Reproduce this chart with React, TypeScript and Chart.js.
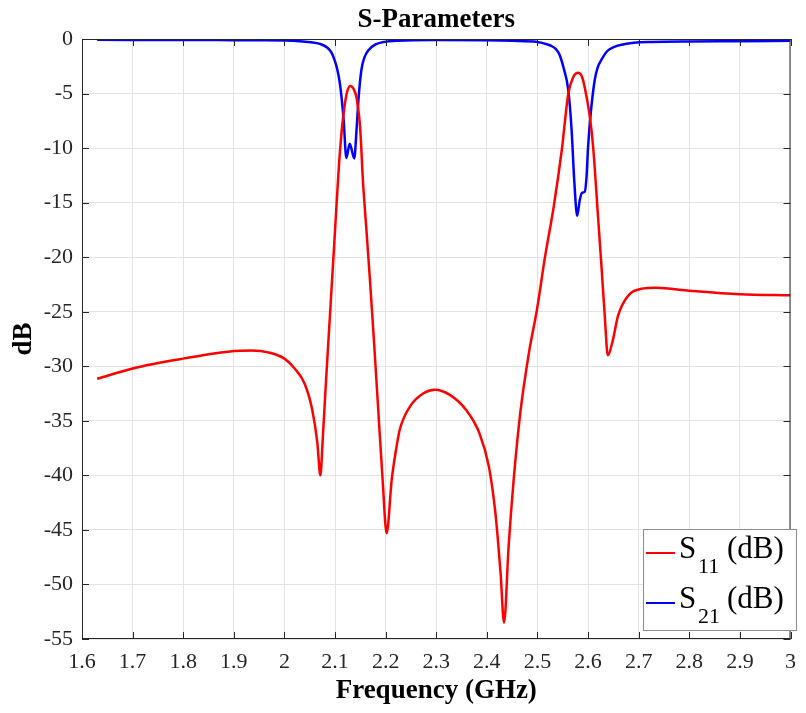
import React, { useEffect, useRef } from "react";
import { Chart, registerables } from "chart.js";

Chart.register(...registerables);

const xTicks = [1.6, 1.7, 1.8, 1.9, 2.0, 2.1, 2.2, 2.3, 2.4, 2.5, 2.6, 2.7, 2.8, 2.9, 3.0];
const yTicks = [0, -5, -10, -15, -20, -25, -30, -35, -40, -45, -50, -55];

const s11Freq = [
  1.63, 1.70, 1.80, 1.90, 1.935, 1.97, 2.00, 2.02, 2.04, 2.055, 2.065, 2.071, 2.076, 2.082, 2.09,
  2.098, 2.104, 2.108, 2.113, 2.117, 2.123, 2.130, 2.137, 2.143, 2.150, 2.155, 2.162, 2.169, 2.176,
  2.183, 2.194, 2.202, 2.212, 2.220, 2.228, 2.248, 2.274, 2.297, 2.326, 2.359, 2.385, 2.404, 2.417,
  2.427, 2.434, 2.443, 2.453, 2.466, 2.483, 2.499, 2.515, 2.532, 2.548, 2.561, 2.5706, 2.5805, 2.589,
  2.597, 2.604, 2.610, 2.620, 2.626, 2.633, 2.639, 2.649, 2.659, 2.678, 2.705, 2.735, 2.80, 2.90, 3.00,
];
const s11dB = [
  -31.15, -30.2, -29.3, -28.6, -28.55, -28.75, -29.3, -30.2, -31.6, -34.0, -37.0, -40.0, -36.4, -31.5, -25.3,
  -19.1, -14.4, -11.4, -8.5, -6.8, -5.0, -4.3, -4.6, -5.5, -8.4, -12.9, -17.5, -22.1, -27.0,
  -32.2, -40.4, -45.3, -40.4, -37.8, -35.8, -33.7, -32.5, -32.15, -32.6, -34.0, -36.1, -39.2, -43.5,
  -48.9, -53.5, -46.5, -40.4, -34.3, -28.8, -24.8, -19.95, -15.4, -10.2, -5.0, -3.5, -3.1, -3.6,
  -5.3, -7.3, -9.9, -16.5, -20.5, -25.4, -29.0, -27.6, -25.4, -23.6, -22.9, -22.8, -23.07, -23.4, -23.5,
];

const s21Freq = [
  1.63, 1.80, 1.90, 1.95, 2.00, 2.03, 2.052, 2.07, 2.085, 2.093, 2.098, 2.104, 2.109, 2.113, 2.117,
  2.1224, 2.129, 2.138, 2.1425, 2.1467, 2.152, 2.158, 2.166, 2.18, 2.196, 2.222, 2.30, 2.40, 2.45,
  2.50, 2.52, 2.528, 2.536, 2.541, 2.545, 2.552, 2.561, 2.5675, 2.5726, 2.5785, 2.5835, 2.588, 2.5935,
  2.597, 2.600, 2.6053, 2.613, 2.619, 2.626, 2.638, 2.652, 2.691, 2.726, 2.80, 2.90, 3.00,
];
const s21dB = [
  -0.08, -0.09, -0.11, -0.12, -0.14, -0.2, -0.3, -0.45, -0.8, -1.25, -1.8, -2.7, -3.9, -5.4, -7.4,
  -10.9, -9.6, -10.95, -8.3, -5.3, -2.86, -1.7, -1.03, -0.5, -0.27, -0.15, -0.1, -0.12, -0.17,
  -0.27, -0.5, -0.65, -0.9, -1.2, -1.6, -2.7, -4.7, -8.35, -12.9, -16.2, -14.8, -14.1, -14.0,
  -12.6, -9.9, -6.8, -3.8, -2.6, -1.94, -1.1, -0.72, -0.35, -0.27, -0.22, -0.2, -0.17,
];

const seriesNames = ["11", "21"];
const seriesColors = ["#ff0000", "#0000ff"];

const SERIF = '"Liberation Serif", "Times New Roman", serif';
const AXIS = "#262626";

const decorPlugin = {
  id: "decor",
  afterDatasetsDraw(chart: any) {
    const { ctx, chartArea: a, scales } = chart;
    const xs = scales.x;
    const ys = scales.y;
    ctx.save();
    ctx.strokeStyle = AXIS;
    ctx.lineWidth = 1;
    ctx.beginPath();
    ctx.moveTo(a.left, a.top + 0.5);
    ctx.lineTo(a.right, a.top + 0.5);
    ctx.moveTo(a.right - 0.5, a.top);
    ctx.lineTo(a.right - 0.5, a.bottom);
    ctx.moveTo(a.left, a.bottom - 0.5);
    ctx.lineTo(a.right, a.bottom - 0.5);
    ctx.moveTo(a.left + 0.5, a.top);
    ctx.lineTo(a.left + 0.5, a.bottom);
    const L = 7;
    xTicks.forEach((v) => {
      const px = Math.round(xs.getPixelForValue(v)) + 0.5;
      ctx.moveTo(px, a.bottom);
      ctx.lineTo(px, a.bottom - L);
      ctx.moveTo(px, a.top);
      ctx.lineTo(px, a.top + L);
    });
    yTicks.forEach((v) => {
      const py = Math.round(ys.getPixelForValue(v)) + 0.5;
      ctx.moveTo(a.left, py);
      ctx.lineTo(a.left + L, py);
      ctx.moveTo(a.right, py);
      ctx.lineTo(a.right - L, py);
    });
    ctx.stroke();

    // titles
    ctx.fillStyle = "#000";
    ctx.textAlign = "center";
    ctx.textBaseline = "alphabetic";
    ctx.font = `bold 27px ${SERIF}`;
    const cx = (a.left + a.right) / 2;
    ctx.fillText("S-Parameters", cx, 27);
    ctx.fillText("Frequency (GHz)", cx, 698);
    ctx.save();
    ctx.translate(31, (a.top + a.bottom) / 2);
    ctx.rotate(-Math.PI / 2);
    ctx.fillText("dB", 0, 0);
    ctx.restore();

    // legend
    const lx = 643, ly = 529, lw = 153, lh = 101;
    ctx.fillStyle = "#fff";
    ctx.fillRect(lx, ly, lw, lh);
    ctx.strokeStyle = "#8c8c8c";
    ctx.lineWidth = 1;
    ctx.strokeRect(lx + 0.5, ly + 0.5, lw, lh);
    seriesNames.forEach((name, i) => {
      const yLine = 553 + i * 50;
      ctx.strokeStyle = seriesColors[i];
      ctx.lineWidth = 2;
      ctx.beginPath();
      ctx.moveTo(646, yLine);
      ctx.lineTo(675, yLine);
      ctx.stroke();
      ctx.fillStyle = "#000";
      ctx.textAlign = "left";
      ctx.textBaseline = "alphabetic";
      ctx.font = `31px ${SERIF}`;
      ctx.fillText("S", 679, yLine + 5);
      ctx.font = `22px ${SERIF}`;
      ctx.fillText(name, 698, yLine + 20);
      ctx.font = `31px ${SERIF}`;
      ctx.fillText("(dB)", 727, yLine + 5);
    });
    ctx.restore();
  },
};

export default function App() {
  const ref = useRef<HTMLCanvasElement | null>(null);
  useEffect(() => {
    if (!ref.current) return;
    const chart = new Chart(ref.current, {
      type: "line",
      data: {
        datasets: [
          {
            label: "S11 (dB)",
            data: s11Freq.map((f, i) => ({ x: f, y: s11dB[i] })),
            borderColor: seriesColors[0],
            borderWidth: 2.5,
            pointRadius: 0,
            cubicInterpolationMode: "monotone",
            fill: false,
          },
          {
            label: "S21 (dB)",
            data: s21Freq.map((f, i) => ({ x: f, y: s21dB[i] })),
            borderColor: seriesColors[1],
            borderWidth: 2.5,
            pointRadius: 0,
            cubicInterpolationMode: "monotone",
            fill: false,
          },
        ],
      },
      options: {
        responsive: false,
        animation: false,
        layout: { padding: { top: 39, right: 8, left: 0, bottom: 0 } },
        plugins: { legend: { display: false }, title: { display: false }, tooltip: { enabled: false } },
        scales: {
          x: {
            type: "linear",
            min: 1.6,
            max: 3.0,
            afterBuildTicks: (s: any) => {
              s.ticks = xTicks.map((v) => ({ value: v }));
            },
            afterFit: (s: any) => {
              s.height = 74;
            },
            ticks: {
              autoSkip: false,
              maxRotation: 0,
              padding: 10,
              color: AXIS,
              font: { family: SERIF, size: 22 },
              callback: (v: any) => String(Number(Number(v).toFixed(1))),
            },
            grid: { color: "#e3e3e3", drawTicks: false, lineWidth: 1 },
            border: { display: false },
          },
          y: {
            type: "linear",
            min: -55,
            max: 0,
            afterBuildTicks: (s: any) => {
              s.ticks = yTicks.map((v) => ({ value: v }));
            },
            afterFit: (s: any) => {
              s.width = 82;
            },
            ticks: {
              autoSkip: false,
              padding: 9,
              color: AXIS,
              font: { family: SERIF, size: 22 },
              callback: (v: any) => String(v),
            },
            grid: { color: "#e3e3e3", drawTicks: false, lineWidth: 1 },
            border: { display: false },
          },
        },
      },
      plugins: [decorPlugin],
    } as any);
    return () => chart.destroy();
  }, []);
  return (
    <div style={{ position: "absolute", left: 0, top: 0, width: 806, height: 713, background: "#fff" }}>
      <canvas ref={ref} width={806} height={713} style={{ display: "block" }} />
    </div>
  );
}
